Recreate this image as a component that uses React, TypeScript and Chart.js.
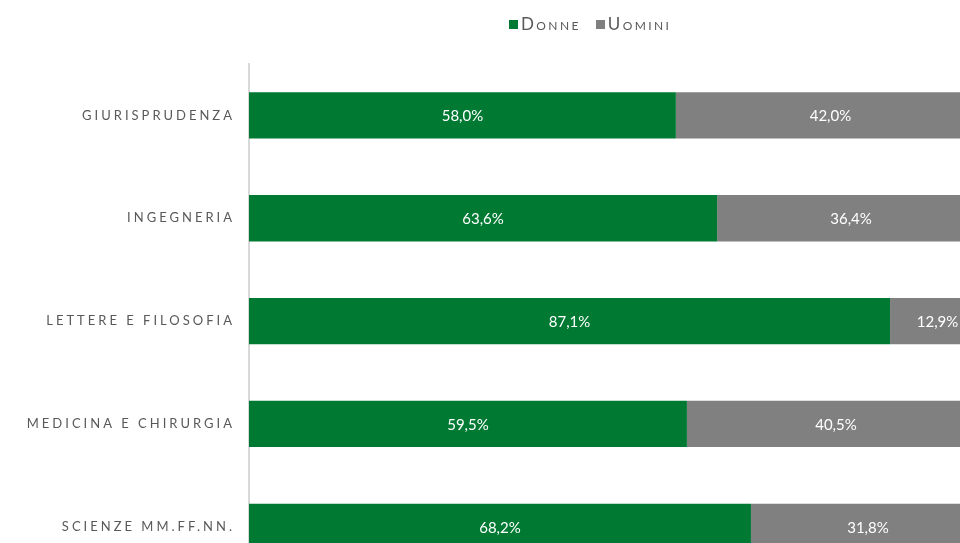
import React, { useEffect, useRef } from "react";
import { Chart, registerables } from "chart.js";

Chart.register(...registerables);

const categories = ["GIURISPRUDENZA", "INGEGNERIA", "LETTERE E FILOSOFIA", "MEDICINA E CHIRURGIA", "SCIENZE MM.FF.NN."];
const donne = [58.0, 63.6, 87.1, 59.5, 68.2];
const uomini = [42.0, 36.4, 12.9, 40.5, 31.8];
const seriesNames = ["Donne", "Uomini"];
const colors = ["#007A33", "#808080"];

const FONT = "Lato, 'Open Sans', sans-serif";

const spacingPlugin = {
  id: "spacing",
  beforeDraw(chart: any) {
    (chart.ctx as any).letterSpacing = "3px";
  },
  beforeDatasetsDraw(chart: any) {
    (chart.ctx as any).letterSpacing = "0px";
  },
};

const valueLabels = {
  id: "valueLabels",
  afterDatasetsDraw(chart: any) {
    const ctx = chart.ctx;
    ctx.save();
    (ctx as any).letterSpacing = "0px";
    ctx.fillStyle = "#ffffff";
    ctx.font = `15px ${FONT}`;
    ctx.textAlign = "center";
    ctx.textBaseline = "middle";
    chart.data.datasets.forEach((ds: any, di: number) => {
      const meta = chart.getDatasetMeta(di);
      meta.data.forEach((bar: any, i: number) => {
        const v = ds.data[i];
        const left = Math.min(bar.x, bar.base);
        const right = Math.max(bar.x, bar.base);
        const cx = (left + right) / 2;
        ctx.fillText(v.toFixed(1).replace(".", ",") + "%", cx, bar.y + 1);
      });
    });
    ctx.restore();
  },
};

export default function App() {
  const ref = useRef<HTMLCanvasElement>(null);
  useEffect(() => {
    if (!ref.current) return;
    const chart = new Chart(ref.current, {
      type: "bar",
      data: {
        labels: categories,
        datasets: [
          { label: seriesNames[0], data: donne, backgroundColor: colors[0], barPercentage: 0.9, categoryPercentage: 0.5 },
          { label: seriesNames[1], data: uomini, backgroundColor: colors[1], barPercentage: 0.9, categoryPercentage: 0.5 },
        ],
      },
      options: {
        indexAxis: "y",
        animation: false,
        responsive: false,
        maintainAspectRatio: false,
        layout: { padding: { top: 64, right: 5, left: 0, bottom: 0 } },
        plugins: { legend: { display: false }, tooltip: { enabled: false } },
        scales: {
          x: { stacked: true, min: 0, max: 100, display: false },
          y: {
            stacked: true,
            grid: { display: false, drawTicks: false },
            border: { display: true, color: "#d9d9d9", width: 2 },
            ticks: { color: "#595959", font: { family: FONT, size: 13 }, padding: 14 },
            afterFit(scale: any) {
              scale.width = 249;
            },
          },
        },
      },
      plugins: [spacingPlugin, valueLabels],
    });
    return () => chart.destroy();
  }, []);

  const legendItem = (name: string, color: string, ml: number) => (
    <span style={{ display: "inline-flex", alignItems: "center", marginLeft: ml }}>
      <span style={{ width: 9, height: 9, background: color, display: "inline-block", marginRight: 3 }} />
      <span style={{ fontVariant: "small-caps", letterSpacing: "2.4px", color: "#595959", fontSize: 17, fontFamily: FONT }}>{name}</span>
    </span>
  );

  return (
    <div style={{ position: "fixed", left: 0, top: 0, width: 960, height: 543, overflow: "hidden", background: "#fff" }}>
      <canvas ref={ref} width={990} height={600} style={{ position: "absolute", left: 0, top: 0, width: 990, height: 600 }} />
      <div style={{ position: "absolute", left: 509, top: 14, display: "flex", lineHeight: "20px" }}>
        {legendItem(seriesNames[0], colors[0], 0)}
        {legendItem(seriesNames[1], colors[1], 15)}
      </div>
    </div>
  );
}
